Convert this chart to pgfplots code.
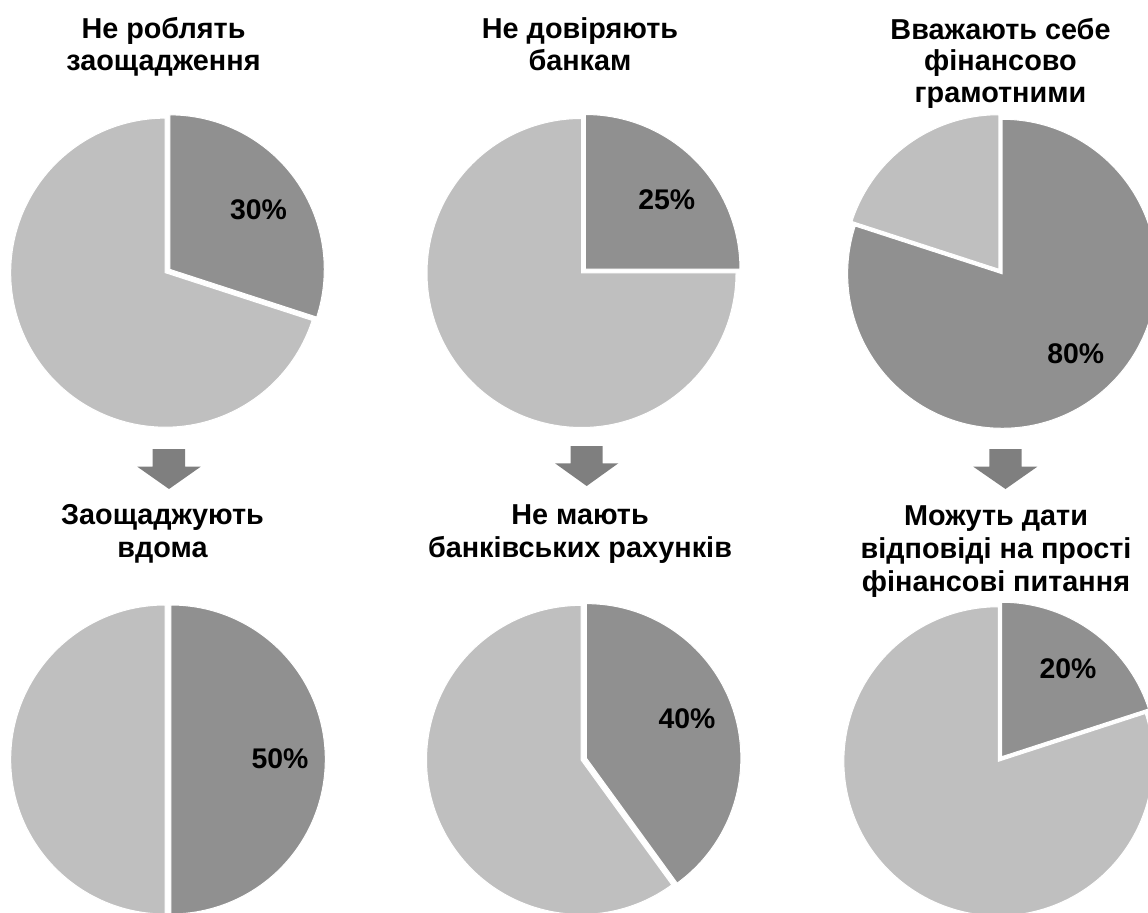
\documentclass[border=0pt]{standalone}
\usepackage{pgfplots}
\pgfplotsset{compat=1.18}
\usepackage{pgfplotstable}
\usepackage{fontspec}
\setmainfont{Liberation Sans}
\definecolor{piedark}{HTML}{909090}
\definecolor{pielight}{HTML}{BFBFBF}
\definecolor{arrowgray}{HTML}{7F7F7F}

\newcommand\pierad{77.25pt}
\newcommand\pieexpl{1.4pt}
\newcommand\titlefont{\fontsize{14.4pt}{16.25pt}\selectfont\bfseries}

% #1 start angle, #2 end angle, #3 mid angle, #4 colour
\newcommand\pieslicepath[4]{%
  \pgfscope
  \pgftransformshift{\pgfpointpolar{#3}{\pieexpl}}%
  \pgfpathmoveto{\pgfpointorigin}%
  \pgfpathlineto{\pgfpointpolar{#1}{\pierad}}%
  \pgfpatharc{#1}{#2}{\pierad}%
  \pgfpathclose
  \pgfsetfillcolor{#4}%
  \pgfsetstrokecolor{white}%
  \pgfsetlinewidth{0.5pt}%
  \pgfsetmiterjoin
  \pgfusepath{fill,stroke}%
  \endpgfscope}

% whole pie at the data point: dark share \pieshare (%) clockwise from 12 o'clock
\pgfdeclareplotmark{twopie}{%
  \pgfmathsetmacro\pieE{90-3.6*\pieshare}%
  \pgfmathsetmacro\pieMD{90-1.8*\pieshare}%
  \pgfmathsetmacro\pieML{\pieMD-180}%
  \pieslicepath{\pieE}{-270}{\pieML}{pielight}%
  \pieslicepath{90}{\pieE}{\pieMD}{piedark}%
}

% pie centres (px) and the dark share (%)
\pgfplotstableread{
cx cy p
167.5 271 30
583.5 271 25
1000.5 271.5 80
168 759.5 50
583.7 759 40
1000 759 20
}\pies
% label positions (px) and text
\pgfplotstableread{
x y v
258.5 210 30
666.7 200 25
1075.7 354 80
280 759 50
687 719 40
1068 669 20
}\pielabels

\begin{document}
\begin{tikzpicture}
\begin{axis}[name=ax, x=0.5pt, y=0.5pt,
  xmin=0, xmax=1148, ymin=0, ymax=912, y dir=reverse,
  hide axis, clip marker paths=true,
  arrow/.style={fill=arrowgray, draw=none, mark=none}]

\addplot[scatter, only marks, mark=twopie, point meta=explicit symbolic,
  scatter/@pre marker code/.code={\edef\pieshare{\pgfplotspointmeta}},
  scatter/@post marker code/.code={}]
  table[x=cx, y=cy, meta=p] {\pies};

\addplot[only marks, mark=none, point meta=explicit symbolic,
  nodes near coords={\pgfplotspointmeta\%},
  nodes near coords style={anchor=center, inner sep=0pt, text=black,
    font=\fontsize{14.2pt}{16pt}\selectfont\bfseries}]
  table[x=x, y=y, meta=v] {\pielabels};

\addplot[arrow] coordinates {(152.7,449) (185,449) (185,466.7) (200.7,466.7) (169,489) (137.3,466.7) (152.7,466.7)} -- cycle;
\addplot[arrow] coordinates {(570.7,446) (602.7,446) (602.7,463.3) (618.3,463.3) (586.7,486) (555,463.3) (570.7,463.3)} -- cycle;
\addplot[arrow] coordinates {(989.3,449) (1021.7,449) (1021.7,466.7) (1037.3,466.7) (1005.5,489) (973.3,466.7) (989.3,466.7)} -- cycle;

\node[anchor=base, font=\titlefont] at (axis cs:163.5,38.5) {Не роблять};
\node[anchor=base, font=\titlefont] at (axis cs:163.5,70.5) {заощадження};
\node[anchor=base, font=\titlefont] at (axis cs:580,38.5) {Не довіряють};
\node[anchor=base, font=\titlefont] at (axis cs:580,70.5) {банкам};
\node[anchor=base, font=\titlefont] at (axis cs:1000.5,39) {Вважають себе};
\node[anchor=base, font=\titlefont] at (axis cs:1000.5,70.5) {фінансово};
\node[anchor=base, font=\titlefont] at (axis cs:1000.5,102) {грамотними};

\node[anchor=base, font=\titlefont] at (axis cs:162.5,524) {Заощаджують};
\node[anchor=base, font=\titlefont] at (axis cs:162.5,557.5) {вдома};
\node[anchor=base, font=\titlefont] at (axis cs:580,524) {Не мають};
\node[anchor=base, font=\titlefont] at (axis cs:580,557) {банківських рахунків};
\node[anchor=base, font=\titlefont] at (axis cs:996,525) {Можуть дати};
\node[anchor=base, font=\titlefont] at (axis cs:996,558) {відповіді на прості};
\node[anchor=base, font=\titlefont] at (axis cs:996,591) {фінансові питання};
\end{axis}
\pgfresetboundingbox
\path[use as bounding box] (ax.south west) rectangle (ax.north east);
\end{tikzpicture}
\end{document}
